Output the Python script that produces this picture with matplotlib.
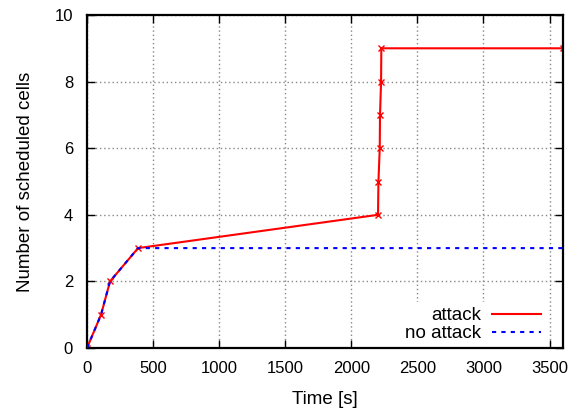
import matplotlib
matplotlib.use("Agg")
import matplotlib.pyplot as plt

# data
attack_t = [0, 106, 174, 386, 2202, 2205, 2215, 2217, 2225, 2227, 3600]
attack_cells = [0, 1, 2, 3, 4, 5, 6, 7, 8, 9, 9]
noattack_t = [0, 106, 174, 386, 3600]
noattack_cells = [0, 1, 2, 3, 3]

x_ticks = [0, 500, 1000, 1500, 2000, 2500, 3000, 3500]
y_ticks = [0, 2, 4, 6, 8, 10]

plt.rcParams['font.family'] = ['Liberation Sans', 'DejaVu Sans']
plt.rcParams['font.size'] = 12

fig = plt.figure(figsize=(5.82, 4.12), dpi=100)
ax = fig.add_axes([0.1495, 0.1553, 0.8175, 0.8083])

ax.plot(attack_t, attack_cells, color='red', lw=1.5, marker='x', ms=5,
        mew=1.0, label='attack', zorder=2)
ax.plot(noattack_t, noattack_cells, color='blue', lw=1.5, ls=(0, (2, 2.5)),
        label='no attack', zorder=3)

ax.set_xlim(0, 3600)
ax.set_ylim(0, 10)
ax.set_xticks(x_ticks)
ax.set_yticks(y_ticks)
ax.set_xlabel('Time [s]', fontsize=13.5, labelpad=11)
ax.set_ylabel('Number of scheduled cells', fontsize=13.5, labelpad=15)

ax.grid(True, color='#888888', ls=(0, (1, 2)), lw=1.0)
ax.tick_params(direction='in', length=6, width=1, top=True, right=True)
ax.tick_params(axis='x', pad=9)
ax.tick_params(axis='y', pad=10)
for s in ax.spines.values():
    s.set_linewidth(1.6)

leg = ax.legend(loc='lower right', markerfirst=False, frameon=True,
                handlelength=2.6, borderaxespad=0.0, borderpad=0.3,
                labelspacing=0.05, handletextpad=0.55, fontsize=13.5,
                bbox_to_anchor=(0.965, 0.0))
leg.get_frame().set_edgecolor('none')
leg.get_frame().set_facecolor('white')
leg.get_frame().set_alpha(1.0)
leg.set_zorder(2.4)  # keep spines and ticks above the white box
for line in leg.get_lines():
    line.set_marker('')
for t in leg.get_texts():
    t.set_ha('right')

fig.savefig('out.png', dpi=100)
